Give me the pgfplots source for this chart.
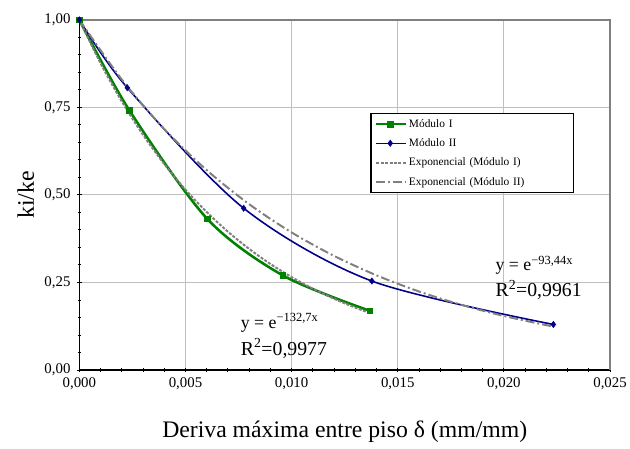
\documentclass[border=0pt]{standalone}
\usepackage{pgfplots}
\pgfplotsset{compat=1.18}
\usepackage{fontspec}
\setmainfont{Liberation Serif}
\definecolor{mgreen}{RGB}{0,130,0}
\definecolor{mblue}{RGB}{0,0,140}
\definecolor{tgray}{RGB}{128,128,128}
\definecolor{ggrid}{RGB}{192,192,192}
\begin{document}
\begin{tikzpicture}
\begin{axis}[
  scale only axis,
  width=535bp, height=353bp,
  xmin=0, xmax=0.025, ymin=0, ymax=1,
  axis x line*=bottom, axis y line*=left,
  axis line style={black, line width=1.6pt, -},
  xtick={0,0.005,...,0.025},
  ytick={0,0.25,0.5,0.75,1},
  minor x tick num=4, minor y tick num=4,
  tick align=center,
  major tick length=5pt, minor tick length=3.5pt,
  tick style={black, line width=0.9pt},
  scaled x ticks=false,
  xticklabel style={/pgf/number format/.cd, fixed, fixed zerofill, precision=3, use comma, assume math mode=true},
  yticklabel style={/pgf/number format/.cd, fixed, fixed zerofill, precision=2, use comma, assume math mode=true},
  ticklabel style={font=\fontsize{15}{17}\selectfont},
  xticklabel shift=2pt, yticklabel shift=3pt,
  xmajorgrids, ymajorgrids,
  major grid style={ggrid, line width=1.1pt},
  xlabel={Deriva máxima entre piso δ (mm/mm)},
  ylabel={ki/ke},
  xlabel style={font=\fontsize{24}{28}\selectfont, at={(axis description cs:0.5,-0.176)}, anchor=center},
  ylabel style={font=\fontsize{24}{28}\selectfont, at={(axis description cs:-0.101,0.5)}, anchor=center},
  clip=false,
  legend style={at={(axis cs:0.0137,0.735)}, anchor=north west, draw=black, line width=1.6pt,
    font=\fontsize{11.5}{13.5}\selectfont, row sep=6pt, inner xsep=4pt, inner ysep=4pt,
    cells={anchor=west, text width=160bp}},
  legend image code/.code={\draw[#1, line width=\pgflinewidth] (0cm,0cm) -- (1.05cm,0cm);
    \draw[#1, line width=\pgflinewidth, solid] plot coordinates {(0.5cm,0cm)};},
]
\draw[tgray, line width=1.4pt] (rel axis cs:0,1) -- (rel axis cs:1,1) -- (rel axis cs:1,0);
\addplot[mgreen, line width=2.6pt, smooth, tension=0.5, mark=square*, mark size=2.8pt, mark options={solid, line width=0.5pt}]
  coordinates {(0,1) (0.00235,0.742) (0.00602,0.432) (0.00959,0.270) (0.01368,0.169)};
\addlegendentry{Módulo I}
\addplot[mblue, line width=1.6pt, smooth, tension=0.5, mark=diamond*, mark size=3.2pt, mark options={solid, line width=0.5pt}]
  coordinates {(0,1) (0.00226,0.806) (0.00774,0.462) (0.01378,0.254) (0.02233,0.130)};
\addlegendentry{Módulo II}
\addplot[tgray, line width=2pt, dash pattern=on 3pt off 1.5pt, smooth]
  coordinates {(0,1) (0.001,0.8757) (0.002,0.7669) (0.003,0.6716) (0.004,0.5881) (0.005,0.5150)
  (0.006,0.4510) (0.007,0.3949) (0.008,0.3458) (0.009,0.3028) (0.010,0.2652) (0.011,0.2322)
  (0.012,0.2034) (0.013,0.1781) (0.0137,0.1623)};
\addlegendentry{Exponencial (Módulo I)}
\addplot[tgray, line width=2pt, dash pattern=on 9pt off 3pt on 2pt off 3pt, smooth]
  coordinates {(0,1) (0.002,0.8295) (0.004,0.6881) (0.006,0.5708) (0.008,0.4735) (0.010,0.3928)
  (0.012,0.3258) (0.014,0.2703) (0.016,0.2242) (0.018,0.1860) (0.020,0.1543) (0.022,0.1280) (0.0223,0.1245)};
\addlegendentry{Exponencial (Módulo II)}
\node[anchor=west, font=\fontsize{18}{21}\selectfont, inner sep=0pt] at (axis cs:0.0076,0.135) {y = e\textsuperscript{−132,7x}};
\node[anchor=west, font=\fontsize{20}{23}\selectfont, inner sep=0pt] at (axis cs:0.0076,0.062) {R\textsuperscript{2}=0,9977};
\node[anchor=west, font=\fontsize{18}{21}\selectfont, inner sep=0pt] at (axis cs:0.0196,0.30) {y = e\textsuperscript{−93,44x}};
\node[anchor=west, font=\fontsize{20}{23}\selectfont, inner sep=0pt] at (axis cs:0.0196,0.228) {R\textsuperscript{2}=0,9961};
\path (rel axis cs:0,0) ++(-80bp,-79bp);
\path (rel axis cs:1,1) ++(15bp,20bp);
\end{axis}
\end{tikzpicture}
\end{document}
